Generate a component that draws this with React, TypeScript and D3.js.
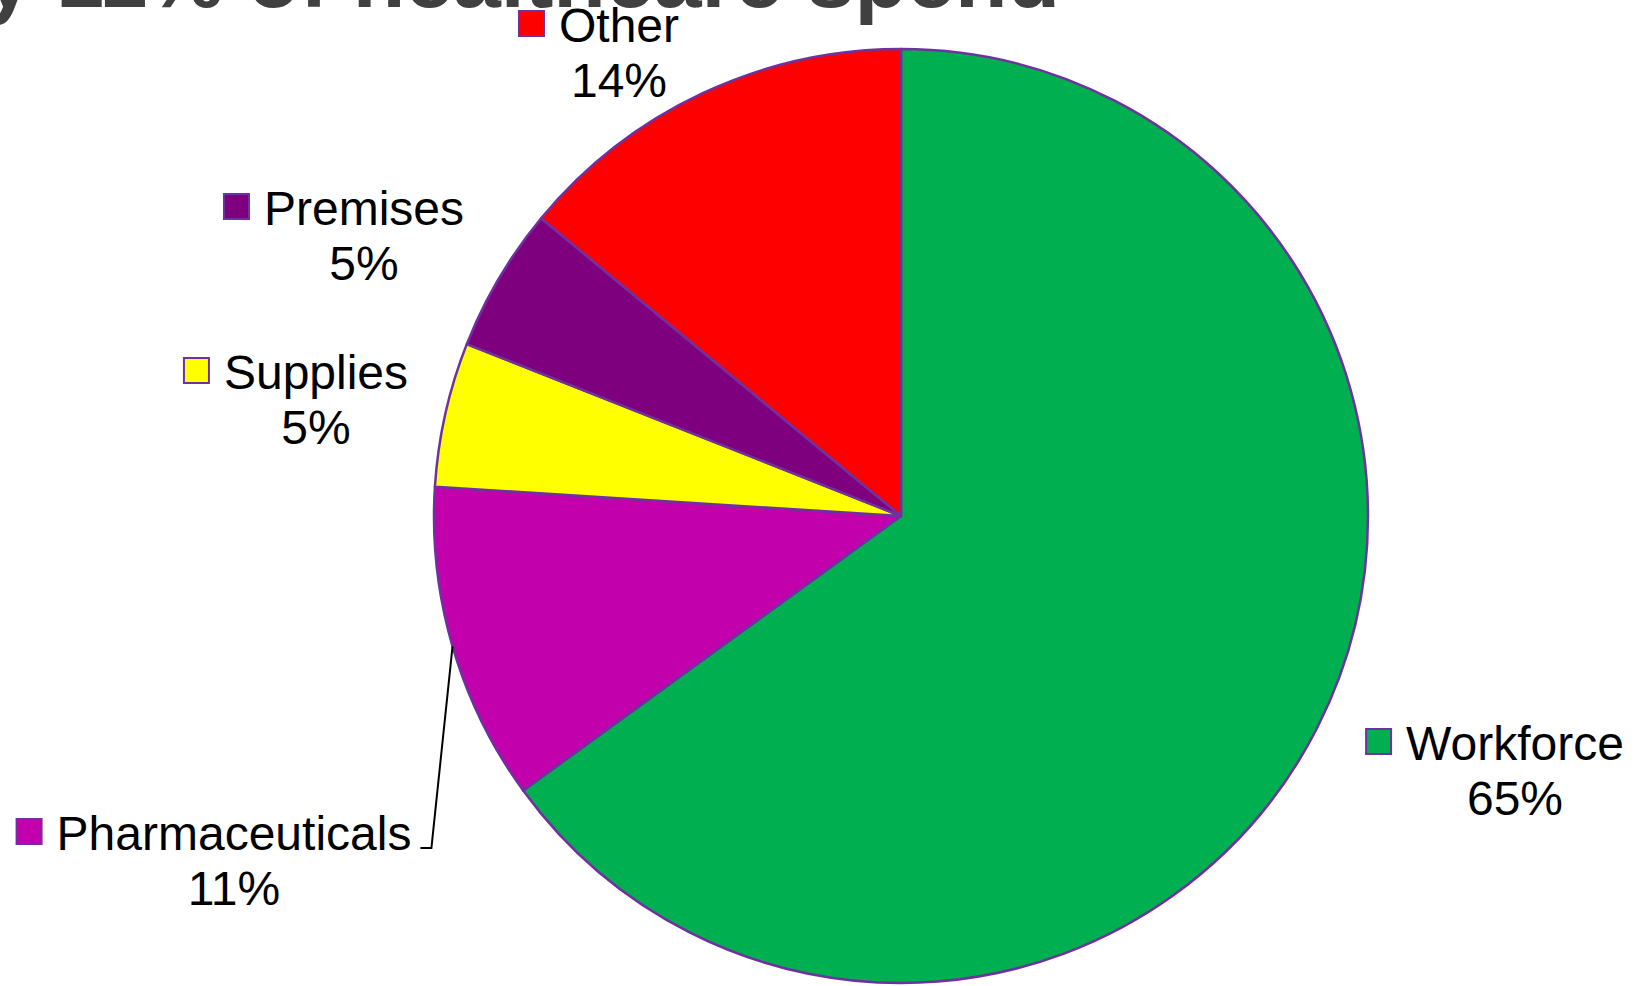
import React, { useEffect, useRef } from "react";
import * as d3 from "d3";

const categories = ["Workforce", "Pharmaceuticals", "Supplies", "Premises", "Other"];
const values = [65, 11, 5, 5, 14];
const percentLabels = ["65%", "11%", "5%", "5%", "14%"];
const colors = ["#00B050", "#C200AC", "#FFFF00", "#7F007F", "#FF0000"];
const titleText = "y 11% of healthcare spend";

const W = 1643;
const H = 986;
const CX = 901;
const CY = 516;
const R = 467;
const STROKE = "#7030A0";
const FONT = "'Liberation Sans', Arial, sans-serif";
const FS = 48;
const LINE = 55;

// label layout: center x of name text, baseline of name line, leader flag
const labelLayout: Record<string, { cx: number; by: number; leader?: boolean }> = {
  Workforce: { cx: 1515, by: 760 },
  Pharmaceuticals: { cx: 234, by: 850, leader: true },
  Supplies: { cx: 316, by: 389 },
  Premises: { cx: 364, by: 225 },
  Other: { cx: 619, by: 42 },
};

export default function App() {
  const ref = useRef<SVGSVGElement>(null);

  useEffect(() => {
    const svg = d3.select(ref.current);
    svg.selectAll("*").remove();

    const data = categories.map((c, i) => ({ name: c, value: values[i], color: colors[i], pct: percentLabels[i] }));
    const pie = d3.pie<any>().sort(null).value((d) => d.value);
    const arcs = pie(data);
    const arc = d3.arc<any>().innerRadius(0).outerRadius(R);

    // title (partially cut off at top)
    svg
      .append("text")
      .attr("x", 1060)
      .attr("y", 7)
      .attr("text-anchor", "end")
      .attr("font-family", FONT)
      .attr("font-weight", "bold")
      .attr("font-size", 86)
      .attr("fill", "#404040")
      .text(titleText);

    const g = svg.append("g").attr("transform", `translate(${CX},${CY})`);
    g.selectAll("path.slice")
      .data(arcs)
      .enter()
      .append("path")
      .attr("class", "slice")
      .attr("d", arc as any)
      .attr("fill", (d: any) => d.data.color)
      .attr("stroke", STROKE)
      .attr("stroke-width", 2.5)
      .attr("stroke-linejoin", "round");

    arcs.forEach((a: any) => {
      const lay = labelLayout[a.data.name];
      const lg = svg.append("g");
      const name = lg
        .append("text")
        .attr("x", lay.cx)
        .attr("y", lay.by)
        .attr("text-anchor", "middle")
        .attr("font-family", FONT)
        .attr("font-size", FS)
        .attr("fill", "#000")
        .text(a.data.name);
      lg.append("text")
        .attr("x", lay.cx)
        .attr("y", lay.by + LINE)
        .attr("text-anchor", "middle")
        .attr("font-family", FONT)
        .attr("font-size", FS)
        .attr("fill", "#000")
        .text(a.data.pct);
      const tw = (name.node() as SVGTextElement).getComputedTextLength();
      const left = lay.cx - tw / 2;
      const right = lay.cx + tw / 2;
      lg.append("rect")
        .attr("x", left - 40)
        .attr("y", lay.by - 31)
        .attr("width", 25)
        .attr("height", 25)
        .attr("fill", a.data.color)
        .attr("stroke", STROKE)
        .attr("stroke-width", 2);

      if (lay.leader) {
        const mid = (a.startAngle + a.endAngle) / 2;
        const px = CX + Math.sin(mid) * R;
        const py = CY - Math.cos(mid) * R;
        svg
          .append("polyline")
          .attr(
            "points",
            `${px},${py} ${right + 20},${lay.by - 2} ${right + 9},${lay.by - 2}`
          )
          .attr("fill", "none")
          .attr("stroke", "#000")
          .attr("stroke-width", 2);
      }
    });
  }, []);

  return (
    <div style={{ position: "fixed", left: 0, top: 0, width: W, height: H, background: "#fff" }}>
      <svg ref={ref} width={W} height={H} style={{ display: "block" }} />
    </div>
  );
}
